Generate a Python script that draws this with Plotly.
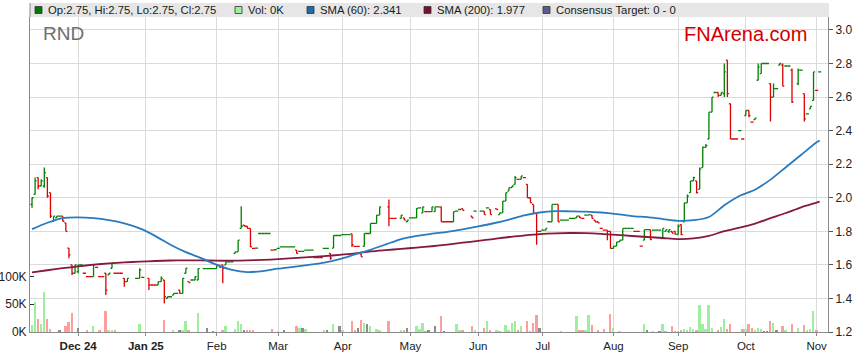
import pandas as pd
import plotly.graph_objects as go

N = None

# ---------------- data ----------------
dates = pd.bdate_range("2024-11-11", "2025-11-04").strftime("%Y-%m-%d").tolist()

open_ = [
    # Nov 24
    1.96, 2.02, 2.12, 2.07, 2.07, 2.12, 2.03, 1.86, 1.88, 1.89, 1.89, 1.85, 1.70, 1.60, 1.55,
    # Dec 24
    1.56, 1.60, 1.55, 1.53, 1.53, 1.53, 1.585, 1.53, 1.53, 1.55, 1.54, 1.58, 1.55, 1.55, 1.55, 1.52, 1.50, N, N, 1.52, 1.52, 1.525,
    # Jan 25
    N, 1.52, 1.48, 1.48, 1.48, 1.50, 1.51, 1.40, 1.41, 1.42, 1.43, 1.45, 1.43, 1.55, 1.50, 1.51, 1.51, 1.51, N, 1.578, 1.578, 1.578, 1.578,
    # Feb
    1.578, 1.598, 1.60, 1.60, 1.618, 1.618, 1.668, 1.678, 1.817, 1.837, 1.83, 1.817, 1.698, 1.70, 1.787, 1.787, 1.787, 1.787, 1.688, 1.69,
    # Mar
    1.698, 1.707, 1.707, 1.707, 1.707, 1.707, 1.688, 1.68, 1.68, 1.688, 1.688, 1.688, 1.644, 1.644, 1.644, 1.698, 1.698, 1.668, 1.70, 1.775, 1.775,
    # Apr
    1.78, 1.78, 1.78, 1.785, 1.71, 1.71, 1.665, 1.71, 1.787, 1.787, 1.847, 1.847, 1.897, N, N, 1.946, 1.877, 1.877, N, 1.877, 1.88, 1.857,
    # May
    1.88, 1.88, 1.88, 1.94, 1.91, 1.917, 1.917, 1.917, 1.917, 1.946, 1.946, 1.857, 1.857, 1.857, 1.857, 1.92, 1.93, 1.935, N, N, 1.89, 1.92,
    # Jun
    N, 1.92, 1.92, 1.94, 1.93, N, 1.935, 1.90, 1.91, 1.98, 2.04, 2.06, 2.08, 2.11, 2.11, 2.12, 2.08, 2.00, 1.96, 1.907, 1.80,
    # Jul
    1.807, 1.807, 1.857, 1.857, 1.96, 1.96, 1.867, 1.867, 1.867, 1.877, 1.877, 1.88, 1.89, 1.877, 1.897, 1.897, 1.897, 1.867, 1.857, 1.817, 1.807, 1.807, 1.80,
    # Aug
    1.698, 1.712, 1.737, 1.747, 1.817, 1.817, 1.817, 1.80, 1.80, 1.712, 1.747, 1.81, 1.81, 1.807, 1.807, 1.807, 1.757, 1.80, 1.80, 1.80, 1.80,
    # Sep
    1.78, 1.84, 1.857, 1.97, 2.03, 2.10, 2.10, 2.05, 2.18, 2.30, 2.35, 2.51, 2.627, 2.627, 2.61, 2.62, 2.82, 2.56, 2.35, 2.35, 2.40, 2.35,
    # Oct
    2.49, 2.52, 2.45, 2.465, 2.70, 2.74, 2.80, 2.80, 2.68, 2.60, 2.65, 2.79, 2.79, 2.785, 2.785, 2.76, N, 2.68, 2.76, 2.62, 2.50, 2.53, 2.58,
    # Nov
    2.64, 2.75,
]

high = [
    2.00, 2.12, 2.12, 2.11, 2.18, 2.12, 2.03, 1.89, 1.89, 1.89, 1.89, 1.85, 1.70, 1.60, 1.60,
    1.60, 1.60, 1.55, 1.53, 1.53, 1.60, 1.585, 1.53, 1.53, 1.55, 1.55, 1.61, 1.55, 1.55, 1.55, 1.52, 1.52, N, N, 1.52, 1.58, 1.525,
    N, 1.52, 1.48, 1.48, 1.50, 1.53, 1.51, 1.41, 1.41, 1.43, 1.43, 1.45, 1.52, 1.58, 1.50, 1.51, 1.53, 1.578, N, 1.578, 1.578, 1.578, 1.578,
    1.598, 1.598, 1.60, 1.618, 1.618, 1.618, 1.678, 1.747, 1.95, 1.837, 1.83, 1.817, 1.698, 1.70, 1.787, 1.787, 1.787, 1.787, 1.688, 1.69,
    1.698, 1.707, 1.707, 1.707, 1.707, 1.707, 1.688, 1.68, 1.68, 1.688, 1.688, 1.688, 1.644, 1.644, 1.644, 1.698, 1.698, 1.668, 1.775, 1.775, 1.775,
    1.78, 1.78, 1.78, 1.785, 1.71, 1.71, 1.665, 1.787, 1.787, 1.847, 1.847, 1.897, 1.946, N, N, 1.99, 1.877, 1.877, N, 1.897, 1.88, 1.867,
    1.88, 1.88, 1.937, 1.94, 1.946, 1.917, 1.917, 1.946, 1.946, 1.946, 1.946, 1.857, 1.857, 1.857, 1.917, 1.92, 1.93, 1.935, N, N, 1.89, 1.92,
    N, 1.92, 1.92, 1.94, 1.93, N, 1.935, 1.91, 1.98, 2.03, 2.06, 2.07, 2.13, 2.11, 2.13, 2.12, 2.08, 2.00, 1.96, 1.907, 1.80,
    1.807, 1.817, 1.857, 1.96, 1.96, 1.96, 1.867, 1.867, 1.867, 1.877, 1.877, 1.89, 1.89, 1.877, 1.897, 1.90, 1.897, 1.867, 1.857, 1.817, 1.807, 1.807, 1.80,
    1.712, 1.737, 1.747, 1.817, 1.817, 1.817, 1.817, 1.80, 1.80, 1.712, 1.81, 1.81, 1.81, 1.807, 1.807, 1.807, 1.817, 1.81, 1.81, 1.80, 1.80,
    1.84, 1.84, 1.97, 2.02, 2.10, 2.125, 2.10, 2.18, 2.305, 2.32, 2.51, 2.60, 2.627, 2.627, 2.627, 2.80, 2.82, 2.56, 2.35, 2.35, 2.40, 2.35,
    2.52, 2.52, 2.45, 2.475, 2.80, 2.80, 2.80, 2.80, 2.68, 2.68, 2.65, 2.80, 2.80, 2.785, 2.785, 2.77, N, 2.77, 2.76, 2.62, 2.50, 2.545, 2.75,
    2.64, 2.75,
]

low = [
    1.94, 2.02, 2.05, 2.07, 2.06, 2.00, 1.88, 1.86, 1.88, 1.89, 1.86, 1.80, 1.64, 1.54, 1.55,
    1.55, 1.60, 1.55, 1.53, 1.53, 1.53, 1.585, 1.53, 1.53, 1.42, 1.54, 1.58, 1.55, 1.55, 1.55, 1.47, 1.50, N, N, 1.52, 1.52, 1.525,
    N, 1.45, 1.48, 1.48, 1.48, 1.50, 1.37, 1.40, 1.41, 1.42, 1.43, 1.43, 1.43, 1.55, 1.495, 1.51, 1.51, 1.51, N, 1.578, 1.578, 1.578, 1.578,
    1.578, 1.585, 1.49, 1.60, 1.618, 1.618, 1.668, 1.678, 1.817, 1.83, 1.817, 1.707, 1.698, 1.70, 1.787, 1.787, 1.787, 1.787, 1.688, 1.69,
    1.698, 1.707, 1.707, 1.707, 1.707, 1.707, 1.668, 1.68, 1.68, 1.688, 1.688, 1.688, 1.644, 1.644, 1.644, 1.698, 1.698, 1.63, 1.70, 1.775, 1.775,
    1.78, 1.78, 1.78, 1.707, 1.71, 1.71, 1.648, 1.71, 1.787, 1.787, 1.847, 1.847, 1.897, N, N, 1.83, 1.877, 1.877, N, 1.877, 1.867, 1.857,
    1.88, 1.88, 1.88, 1.94, 1.91, 1.917, 1.917, 1.917, 1.917, 1.946, 1.857, 1.857, 1.857, 1.857, 1.857, 1.92, 1.93, 1.925, N, N, 1.88, 1.92,
    N, 1.92, 1.90, 1.94, 1.90, N, 1.93, 1.90, 1.91, 1.98, 2.04, 2.06, 2.08, 2.11, 2.11, 2.12, 2.00, 1.97, 1.907, 1.72, 1.80,
    1.807, 1.807, 1.857, 1.857, 1.96, 1.857, 1.867, 1.867, 1.867, 1.877, 1.877, 1.88, 1.88, 1.877, 1.897, 1.897, 1.877, 1.857, 1.85, 1.817, 1.807, 1.747, 1.698,
    1.698, 1.712, 1.737, 1.747, 1.817, 1.817, 1.817, 1.80, 1.80, 1.712, 1.747, 1.81, 1.75, 1.807, 1.807, 1.807, 1.757, 1.80, 1.79, 1.79, 1.78,
    1.78, 1.777, 1.857, 1.97, 2.03, 2.10, 2.026, 2.05, 2.18, 2.30, 2.35, 2.51, 2.627, 2.60, 2.61, 2.60, 2.60, 2.35, 2.35, 2.35, 2.40, 2.35,
    2.49, 2.48, 2.45, 2.465, 2.70, 2.74, 2.80, 2.80, 2.455, 2.60, 2.65, 2.79, 2.665, 2.785, 2.785, 2.565, N, 2.67, 2.76, 2.455, 2.50, 2.53, 2.58,
    2.64, 2.75,
]

close = [
    2.00, 2.10, 2.07, 2.10, 2.15, 2.01, 1.89, 1.89, 1.89, 1.89, 1.86, 1.80, 1.66, 1.55, 1.60,
    1.60, 1.60, 1.55, 1.53, 1.53, 1.60, 1.585, 1.53, 1.53, 1.45, 1.55, 1.61, 1.55, 1.55, 1.55, 1.50, 1.52, N, N, 1.52, 1.57, 1.525,
    N, 1.48, 1.48, 1.48, 1.50, 1.52, 1.41, 1.41, 1.41, 1.43, 1.43, 1.43, 1.52, 1.58, 1.495, 1.51, 1.53, 1.578, N, 1.578, 1.578, 1.578, 1.578,
    1.598, 1.585, 1.58, 1.618, 1.618, 1.618, 1.678, 1.747, 1.83, 1.83, 1.817, 1.707, 1.698, 1.70, 1.787, 1.787, 1.787, 1.787, 1.688, 1.69,
    1.698, 1.707, 1.707, 1.707, 1.707, 1.707, 1.668, 1.68, 1.68, 1.688, 1.688, 1.688, 1.644, 1.644, 1.644, 1.698, 1.698, 1.64, 1.775, 1.775, 1.775,
    1.78, 1.78, 1.78, 1.72, 1.71, 1.71, 1.648, 1.787, 1.787, 1.847, 1.847, 1.897, 1.946, N, N, 1.877, 1.877, 1.877, N, 1.897, 1.867, 1.867,
    1.88, 1.88, 1.937, 1.94, 1.946, 1.917, 1.917, 1.946, 1.946, 1.946, 1.857, 1.857, 1.857, 1.857, 1.917, 1.92, 1.93, 1.925, N, N, 1.88, 1.92,
    N, 1.92, 1.90, 1.94, 1.90, N, 1.93, 1.91, 1.98, 2.03, 2.06, 2.07, 2.12, 2.11, 2.13, 2.12, 2.00, 1.97, 1.907, 1.80, 1.80,
    1.807, 1.817, 1.857, 1.96, 1.96, 1.857, 1.867, 1.867, 1.867, 1.877, 1.877, 1.89, 1.88, 1.877, 1.897, 1.90, 1.877, 1.857, 1.85, 1.817, 1.807, 1.80, 1.698,
    1.712, 1.737, 1.747, 1.817, 1.817, 1.817, 1.817, 1.80, 1.80, 1.712, 1.81, 1.81, 1.75, 1.807, 1.807, 1.807, 1.817, 1.81, 1.81, 1.79, 1.785,
    1.83, 1.78, 1.97, 2.01, 2.10, 2.12, 2.03, 2.17, 2.30, 2.31, 2.51, 2.60, 2.627, 2.61, 2.627, 2.75, 2.62, 2.35, 2.35, 2.35, 2.40, 2.35,
    2.52, 2.49, 2.45, 2.475, 2.78, 2.80, 2.80, 2.80, 2.60, 2.65, 2.65, 2.80, 2.665, 2.785, 2.785, 2.57, N, 2.76, 2.76, 2.47, 2.50, 2.545, 2.75,
    2.64, 2.75,
]

volume_k = [
    12, 54, 24, 15, 72, 24, 6, 0, 0, 4, 0, 10, 18, 35, 0,
    8, 0, 0, 2, 0, 11, 0, 2, 0, 38, 4, 2, 2, 0, 0, 0, 0, N, N, 0, 14, 0,
    N, 0, 0, 0, 0, 0, 22, 0, 0, 2, 0, 2, 3, 20, 3, 0, 0, 34, N, 0, 7, 0, 1,
    0, 0, 4, 11, 0, 0, 6, 20, 15, 4, 4, 4, 3, 0, 0, 0, 0, 0, 6, 0,
    1, 0, 4, 0, 0, 0, 11, 7, 8, 6, 0, 0, 0, 0, 0, 4, 2, 0, 15, 0, 11,
    4, 0, 0, 20, 2, 8, 22, 16, 14, 11, 0, 5, 2, N, N, 19, 0, 0, N, 4, 2, 8,
    0, 0, 10, 6, 16, 1, 2, 0, 10, 0, 28, 1, 0, 0, 0, 15, 2, 4, N, N, 10, 4,
    N, 0, 8, 19, 2, N, 2, 1, 0, 12, 3, 17, 19, 4, 10, 0, 19, 1, 16, 31, 8,
    0, 0, 0, 0, 0, 0, 1, 0, 0, 0, 0, 29, 4, 2, 2, 31, 13, 0, 4, 0, 5, 0, 32,
    7, 0, 1, 0, 0, 0, 0, 0, 0, 0, 15, 4, 0, 1, 0, 1, 15, 1, 0, 11, 1,
    1, 2, 5, 4, 9, 5, 4, 48, 15, 5, 48, 7, 0, 4, 9, 23, 6, 14, 0, 0, 0, 5,
    5, 14, 7, 3, 7, 5, 1, 1, 19, 17, 4, 0, 10, 4, 0, 14, N, 8, 0, 12, 3, 5, 38,
    2, 0,
]

# moving averages at weekly points (Mondays) + last day
sma_dates = pd.date_range("2024-11-11", "2025-11-03", freq="7D").strftime("%Y-%m-%d").tolist() + ["2025-11-04"]
sma60 = [
    1.813, 1.851, 1.879, 1.883, 1.878, 1.866, 1.847, 1.817, 1.773, 1.720, 1.676,
    1.640, 1.600, 1.570, 1.557, 1.563, 1.577, 1.588, 1.600, 1.613, 1.634,
    1.662, 1.690, 1.722, 1.754, 1.773, 1.786, 1.797, 1.812, 1.829, 1.848,
    1.870, 1.895, 1.912, 1.920, 1.919, 1.917, 1.912, 1.903, 1.891, 1.884,
    1.873, 1.862, 1.866, 1.885, 1.955, 2.012, 2.048, 2.108, 2.182, 2.256,
    2.330, 2.341,
]
sma200 = [
    1.555, 1.568, 1.580, 1.591, 1.601, 1.609, 1.615, 1.619, 1.623, 1.626, 1.627,
    1.627, 1.625, 1.625, 1.627, 1.630, 1.634, 1.640, 1.646, 1.652, 1.660,
    1.668, 1.680, 1.688, 1.695, 1.703, 1.711, 1.721, 1.732, 1.743, 1.754,
    1.766, 1.775, 1.783, 1.788, 1.790, 1.789, 1.785, 1.779, 1.772, 1.766,
    1.760, 1.754, 1.758, 1.773, 1.801, 1.822, 1.846, 1.878, 1.909, 1.943,
    1.971, 1.977,
]

month_ticks = ["2024-12-02", "2025-01-01", "2025-02-03", "2025-03-03", "2025-04-01", "2025-05-01",
               "2025-06-02", "2025-07-01", "2025-08-01", "2025-09-01", "2025-10-01", "2025-11-03"]
month_labels = ["<b>Dec 24</b>", "<b>Jan 25</b>", "Feb", "Mar", "Apr", "May",
                "Jun", "Jul", "Aug", "Sep", "Oct", "Nov"]

price_ticks = [1.2, 1.4, 1.6, 1.8, 2.0, 2.2, 2.4, 2.6, 2.8, 3.0]
vol_ticks = [0, 50, 100]
vol_labels = ["0K", "50K", "100K"]

assert len(dates) == len(open_) == len(high) == len(low) == len(close) == len(volume_k), (
    len(dates), len(open_), len(high), len(low), len(close), len(volume_k))
assert len(sma_dates) == len(sma60) == len(sma200)

# ---------------- styling ----------------
UP = "#008000"
DOWN = "#dd0000"
VOL_UP = "#9cf09c"
VOL_DOWN = "#ff9c9c"
VOL_FLAT = "#8c8c8c"
FONT = "Liberation Sans, Arial, sans-serif"

vol_colors = []
prev = None
for c in close:
    if c is None:
        vol_colors.append(VOL_FLAT)
        continue
    if prev is None or c > prev:
        vol_colors.append(VOL_UP)
    elif c < prev:
        vol_colors.append(VOL_DOWN)
    else:
        vol_colors.append(VOL_FLAT)
    prev = c

W, H = 859, 363
L, R, T, B = 30, 31, 17, 31
PW, PH = W - L - R, H - T - B


def px(x):
    return (x - L) / PW


def py(y):
    return (H - B - y) / PH


fig = go.Figure()

fig.add_trace(go.Bar(
    x=dates, y=volume_k, marker_color=vol_colors, marker_line_width=0,
    width=0.62, xaxis="x", yaxis="y", hoverinfo="skip", showlegend=False,
))
fig.add_trace(go.Scatter(
    x=sma_dates, y=sma200, mode="lines", xaxis="x", yaxis="y2",
    line=dict(color="#86193e", width=1.8, shape="spline", smoothing=0.8),
    hoverinfo="skip", showlegend=False,
))
fig.add_trace(go.Scatter(
    x=sma_dates, y=sma60, mode="lines", xaxis="x", yaxis="y2",
    line=dict(color="#2a7bbd", width=1.8, shape="spline", smoothing=0.8),
    hoverinfo="skip", showlegend=False,
))
fig.add_trace(go.Ohlc(
    x=dates, open=open_, high=high, low=low, close=close, xaxis="x", yaxis="y2",
    increasing=dict(line=dict(color=UP, width=1.3)),
    decreasing=dict(line=dict(color=DOWN, width=1.3)),
    tickwidth=0.5, hoverinfo="skip", showlegend=False,
))

fig.update_layout(
    width=W, height=H,
    autosize=False,
    margin=dict(l=L, r=R, t=T, b=B, pad=0, autoexpand=False),
    paper_bgcolor="white", plot_bgcolor="white",
    font=dict(family=FONT, size=12, color="#222222"),
    showlegend=False,
    bargap=0,
    xaxis=dict(
        type="category", categoryorder="array", categoryarray=dates,
        range=[-0.65, 258.7], automargin=False,
        tickmode="array", tickvals=month_ticks, ticktext=month_labels,
        tickfont=dict(size=11.5, color="#222222"),
        showgrid=True, gridcolor="#dadada", gridwidth=1,
        showline=True, linecolor="#8a8a8a", linewidth=1,
        ticks="outside", ticklen=3, tickcolor="#8a8a8a",
        zeroline=False, rangeslider=dict(visible=False), fixedrange=True,
    ),
    yaxis=dict(
        range=[0, 567], side="left", automargin=False,
        tickmode="array", tickvals=vol_ticks, ticktext=vol_labels,
        tickfont=dict(size=12, color="#222222"),
        showgrid=False, zeroline=False,
        showline=True, linecolor="#8a8a8a", linewidth=1,
        ticks="inside", ticklen=4, tickcolor="#333333", fixedrange=True,
    ),
    yaxis2=dict(
        overlaying="y", side="right", range=[1.2, 3.077], automargin=False,
        tickmode="array", tickvals=price_ticks, ticktext=[f"{v:.1f}" for v in price_ticks],
        tickfont=dict(size=12, color="#222222"),
        showgrid=True, gridcolor="#dadada", gridwidth=1, zeroline=False,
        showline=True, linecolor="#8a8a8a", linewidth=1,
        ticks="outside", ticklen=4, tickcolor="#555555", fixedrange=True,
    ),
)

shapes = [
    # legend band
    dict(type="rect", xref="paper", yref="paper", x0=px(30), x1=px(829), y0=py(17), y1=py(3),
         fillcolor="#e6e6e6", line=dict(width=0), layer="above"),
    dict(type="line", xref="paper", yref="paper", x0=0, x1=0, y0=py(17), y1=py(3),
         line=dict(color="#8a8a8a", width=1)),
]
annotations = []

legend_items = [
    (35, "#007a00", "Op:2.75, Hi:2.75, Lo:2.75, Cl:2.75"),
    (235, "#9cf09c", "Vol: 0K"),
    (307, "#1f6aa8", "SMA (60): 2.341"),
    (424, "#7a1030", "SMA (200): 1.977"),
    (543, "#5c5c8c", "Consensus Target: 0 - 0"),
]
for x0, col, label in legend_items:
    shapes.append(dict(type="rect", xref="paper", yref="paper",
                       x0=px(x0), x1=px(x0 + 7), y0=py(13.5), y1=py(6.5),
                       fillcolor=col, line=dict(color="#333333", width=0.8), layer="above"))
    annotations.append(dict(xref="paper", yref="paper", x=px(x0 + 11), y=py(10.3),
                            xanchor="left", yanchor="middle", showarrow=False,
                            text=label, font=dict(size=11.3, color="#1a1a1a", family=FONT)))

annotations.append(dict(xref="paper", yref="paper", x=px(41), y=py(33.5),
                        xanchor="left", yanchor="middle", showarrow=False,
                        text="RND", font=dict(size=19, color="#6e6e6e", family=FONT)))
annotations.append(dict(xref="paper", yref="paper", x=px(809), y=py(33.5),
                        xanchor="right", yanchor="middle", showarrow=False,
                        text="FNArena.com", font=dict(size=20, color="#d00000", family=FONT)))

fig.update_layout(shapes=shapes, annotations=annotations)

# remove the browser's default 8px page margin so the figure sits at (0, 0)
fig.write_html("out.html", config={"displayModeBar": False},
               post_script="document.body.style.margin='0';")
